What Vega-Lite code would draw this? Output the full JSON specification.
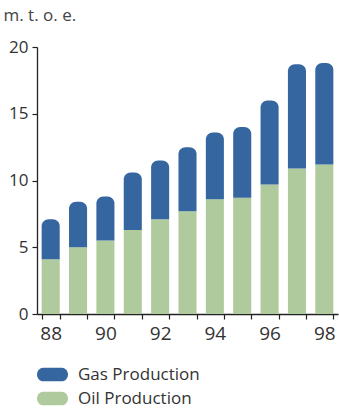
{
  "$schema": "https://vega.github.io/schema/vega-lite/v6.json",
  "width": 301,
  "height": 267,
  "autosize": "none",
  "padding": {"left": 37, "top": 47, "right": 1, "bottom": 103},
  "background": "white",
  "config": {
    "view": {"stroke": null},
    "font": "Open Sans",
    "axis": {
      "domainColor": "#222222",
      "tickColor": "#222222",
      "labelColor": "#333333",
      "domainWidth": 1.3,
      "tickWidth": 1.2,
      "grid": false
    }
  },
  "data": {
    "values": [
      {"year": 88, "source": "Oil Production", "value": 4.1},
      {"year": 88, "source": "Gas Production", "value": 3.0},
      {"year": 89, "source": "Oil Production", "value": 5.0},
      {"year": 89, "source": "Gas Production", "value": 3.4},
      {"year": 90, "source": "Oil Production", "value": 5.5},
      {"year": 90, "source": "Gas Production", "value": 3.3},
      {"year": 91, "source": "Oil Production", "value": 6.3},
      {"year": 91, "source": "Gas Production", "value": 4.3},
      {"year": 92, "source": "Oil Production", "value": 7.1},
      {"year": 92, "source": "Gas Production", "value": 4.4},
      {"year": 93, "source": "Oil Production", "value": 7.7},
      {"year": 93, "source": "Gas Production", "value": 4.8},
      {"year": 94, "source": "Oil Production", "value": 8.6},
      {"year": 94, "source": "Gas Production", "value": 5.0},
      {"year": 95, "source": "Oil Production", "value": 8.7},
      {"year": 95, "source": "Gas Production", "value": 5.3},
      {"year": 96, "source": "Oil Production", "value": 9.7},
      {"year": 96, "source": "Gas Production", "value": 6.3},
      {"year": 97, "source": "Oil Production", "value": 10.9},
      {"year": 97, "source": "Gas Production", "value": 7.8},
      {"year": 98, "source": "Oil Production", "value": 11.2},
      {"year": 98, "source": "Gas Production", "value": 7.6}
    ]
  },
  "transform": [
    {
      "stack": "value",
      "groupby": ["year"],
      "sort": [{"field": "source", "order": "descending"}],
      "as": ["v0", "v1"]
    }
  ],
  "encoding": {
    "x": {
      "field": "year",
      "type": "ordinal",
      "scale": {"paddingInner": 0.34, "paddingOuter": 0.17},
      "axis": {
        "title": null,
        "labelAngle": 0,
        "labelFontSize": 19,
        "labelPadding": 5,
        "tickSize": 5,
        "tickBand": "extent",
        "labelExpr": "parseInt(datum.value) % 2 === 0 ? datum.label : ''"
      }
    },
    "y": {
      "field": "v1",
      "type": "quantitative",
      "scale": {"domain": [0, 20], "nice": false},
      "axis": {
        "values": [0, 5, 10, 15, 20],
        "labelFontSize": 17,
        "labelPadding": 4,
        "tickSize": 5,
        "title": "m. t. o. e.",
        "titleAngle": 0,
        "titleAlign": "left",
        "titleBaseline": "alphabetic",
        "titleX": -34,
        "titleY": -27,
        "titleFontSize": 17,
        "titleFontWeight": "normal",
        "titleColor": "#444444"
      }
    },
    "y2": {"field": "v0"},
    "color": {
      "field": "source",
      "type": "nominal",
      "scale": {
        "domain": ["Gas Production", "Oil Production"],
        "range": ["#3666a0", "#afca9c"]
      },
      "legend": {
        "title": null,
        "orient": "none",
        "legendX": 0,
        "legendY": 312,
        "direction": "vertical",
        "padding": 0,
        "rowPadding": 0,
        "symbolType": "M-0.6,-0.44 L0.6,-0.44 A0.4,0.44 0 0 1 0.6,0.44 L-0.6,0.44 A0.4,0.44 0 0 1 -0.6,-0.44 Z",
        "symbolSize": 961,
        "symbolStrokeWidth": 0,
        "symbolOpacity": 1,
        "labelFontSize": 17,
        "labelColor": "#333333",
        "labelOffset": 10
      }
    }
  },
  "layer": [
    {
      "transform": [{"filter": "datum.source === 'Oil Production'"}],
      "mark": {"type": "bar"}
    },
    {
      "transform": [{"filter": "datum.source === 'Gas Production'"}],
      "mark": {"type": "bar", "cornerRadiusTopLeft": 7, "cornerRadiusTopRight": 7}
    }
  ]
}
